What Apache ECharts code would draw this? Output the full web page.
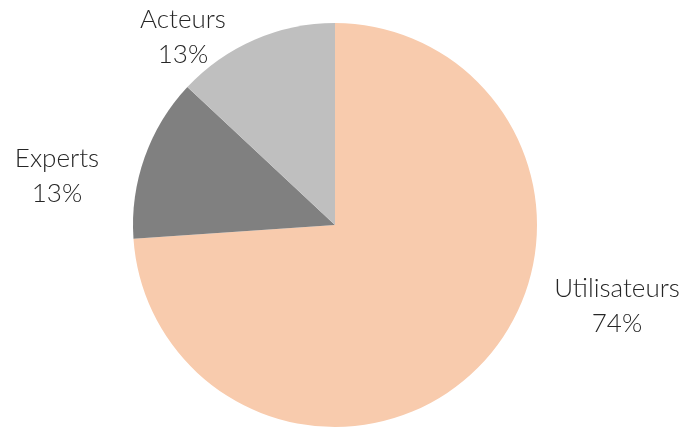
<!DOCTYPE html>
<html>
<head>
<meta charset="utf-8">
<script src="https://cdn.jsdelivr.net/npm/echarts@6/dist/echarts.min.js"></script>
<style>html,body{margin:0;padding:0;background:#fff;}#c{width:683px;height:428px;}</style>
</head>
<body>
<div id="c"></div>
<script>
const categories = ['Utilisateurs', 'Experts', 'Acteurs'];
const values = [17, 3, 3];
const colors = ['#F8CBAD', '#808080', '#BFBFBF'];
const labelPos = [[617, 306], [57, 176], [183, 37]];

const chart = echarts.init(document.getElementById('c'), null, {renderer: 'canvas'});
chart.setOption({
  animation: false,
  series: [{
    type: 'pie',
    center: [335, 225],
    radius: 202,
    startAngle: 90,
    clockwise: true,
    data: categories.map((n, i) => ({name: n, value: values[i], itemStyle: {color: colors[i]}})),
    label: {
      show: true,
      position: 'outside',
      formatter: p => p.name + '\n' + Math.round(p.percent) + '%',
      fontFamily: 'Lato',
      fontWeight: 300,
      fontSize: 26,
      lineHeight: 35,
      color: '#262626',
      align: 'center'
    },
    labelLine: {show: false},
    labelLayout: function (p) {
      const pos = labelPos[p.dataIndex];
      return {x: pos[0], y: pos[1], align: 'center', verticalAlign: 'middle'};
    },
    itemStyle: {borderWidth: 0}
  }]
});
</script>
</body>
</html>
